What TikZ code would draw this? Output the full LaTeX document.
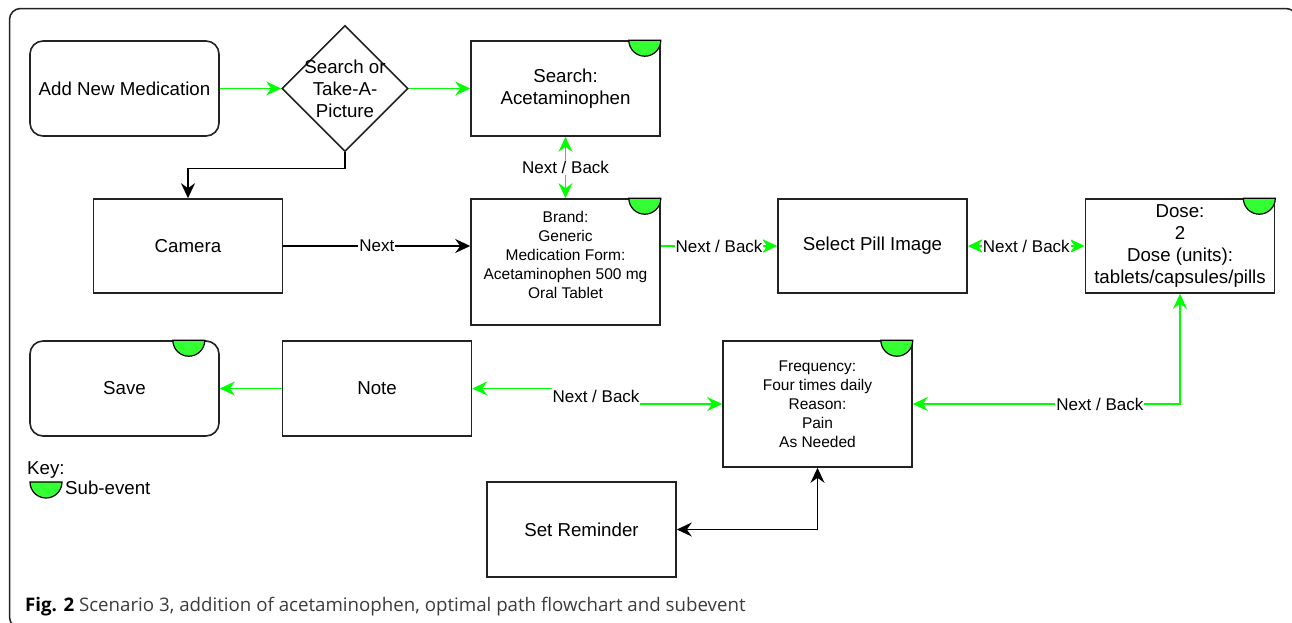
\documentclass[tikz,border=0pt]{standalone}
\usepackage{fontspec}
\setmainfont{Liberation Sans}
\newfontfamily\capfont{Open Sans}
\usetikzlibrary{positioning,arrows.meta,shapes.geometric}
\definecolor{vgreen}{RGB}{0,255,0}
\definecolor{subgreen}{RGB}{51,255,51}
\definecolor{ink}{RGB}{34,34,34}
\definecolor{capgray}{RGB}{60,60,60}
\newcommand\bigfs{\fontsize{18.7}{22}\selectfont}
\newcommand\smallfs{\fontsize{15.5}{19}\selectfont}
\newcommand\labfs{\fontsize{17}{20}\selectfont}
\newcommand\subev[2][16]{\filldraw[subev] ([xshift=-#1pt-16pt]#2.north east) arc[start angle=180,end angle=360,radius=16pt] -- cycle;}
\tikzset{
  >={Stealth[length=15pt,width=14pt,inset=5pt]},
  sbox/.style={draw=ink,line width=1.6pt,minimum width=189pt,minimum height=95pt,inner sep=2pt,align=center,font=\bigfs},
  rbox/.style={sbox,rounded corners=13pt},
  dbox/.style={diamond,draw=ink,line width=1.6pt,minimum size=126pt,inner sep=0pt},
  gline/.style={draw=vgreen,line width=1.6pt,->},
  gboth/.style={draw=vgreen,line width=1.6pt,<->},
  bline/.style={draw=black,line width=1.6pt,->},
  bboth/.style={draw=black,line width=1.6pt,<->},
  elab/.style={fill=white,inner sep=1pt,font=\labfs,text=black},
  subev/.style={draw=black,fill=subgreen,line width=1.2pt}
}

\begin{document}
\begin{tikzpicture}[x=1pt,y=-1pt]
  \useasboundingbox (0,0) rectangle (1292,622);
  \draw[ink,line width=1.5pt,rounded corners=11pt] (9.5,8.5) rectangle (1297,628);

  \node[rbox] (add) at (124.5,88.5) {Add New Medication};
  \node[dbox] (pick) at (345,88.5) {};
  \node[font=\bigfs,align=center,inner sep=0pt] (picktxt) at (pick) {Search or\\Take-A-\\Picture};
  \node[sbox] (search) at (565.5,88.5) {Search:\\Acetaminophen};
  \node[sbox,minimum height=94pt] (camera) at (188,246) {Camera};
  \node[sbox,minimum height=126pt] (brand) at (565.5,262) {};
  \node[font=\smallfs,align=center,inner sep=0pt] (brandtxt) at ([yshift=7pt]brand.center) {Brand:\\Generic\\Medication Form:\\Acetaminophen 500 mg\\Oral Tablet};
  \node[sbox,minimum height=94pt] (select) at (872.5,246) {Select Pill Image};
  \node[sbox,minimum height=94pt] (dose) at (1180,246) {Dose:\\2\\Dose (units):\\tablets/capsules/pills};
  \node[rbox] (save) at (124.5,388.5) {Save};
  \node[sbox] (note) at (377,388.5) {Note};
  \node[sbox,minimum height=126pt,font=\smallfs] (freq) at (817.5,404) {Frequency:\\Four times daily\\Reason:\\Pain\\As Needed};
  \node[sbox] (remind) at (581.5,529.5) {Set Reminder};

  \subev{search} \subev{brand} \subev{dose} \subev{freq} \subev[31]{save}

  \draw[gline] (add) -- (pick);
  \draw[gline] (pick) -- (search);
  \draw[bline] (pick.south) -- ++(0,16) -| (camera.north);
  \draw[gboth] (search) -- node[elab]{Next / Back} (brand);
  \draw[bline] (camera.east) -- node[elab]{Next} (camera.east -| brand.west);
  \draw[gline] (brand.east |- select.west) -- node[elab]{Next / Back} (select.west);
  \draw[gboth] (select) -- node[elab]{Next / Back} (dose);
  \draw[gboth] (dose.south) |- node[elab,pos=0.65]{Next / Back} (freq.east);
  \coordinate (jog) at (596,396.5);
  \draw[gboth] (note.east) -| (jog) node[elab,inner ysep=4pt]{Next / Back} |- (freq.west);
  \draw[gline] (note) -- (save);
  \draw[bboth] (freq.south) |- (remind.east);

  \node[anchor=base west,font=\bigfs,inner sep=0pt] (key) at (27,474) {Key:};
  \filldraw[subev] (30,482) arc[start angle=180,end angle=360,radius=16pt] -- cycle;
  \node[anchor=base west,font=\bigfs,inner sep=0pt] (subkey) at (65,494) {Sub-event};

  \node[anchor=base west,inner sep=0pt,font=\capfont\fontsize{18.7}{22}\selectfont,text=capgray] (cap) at (25,611.5) {\textbf{\color{black}Fig. 2} Scenario 3, addition of acetaminophen, optimal path flowchart and subevent};
\end{tikzpicture}
\end{document}
